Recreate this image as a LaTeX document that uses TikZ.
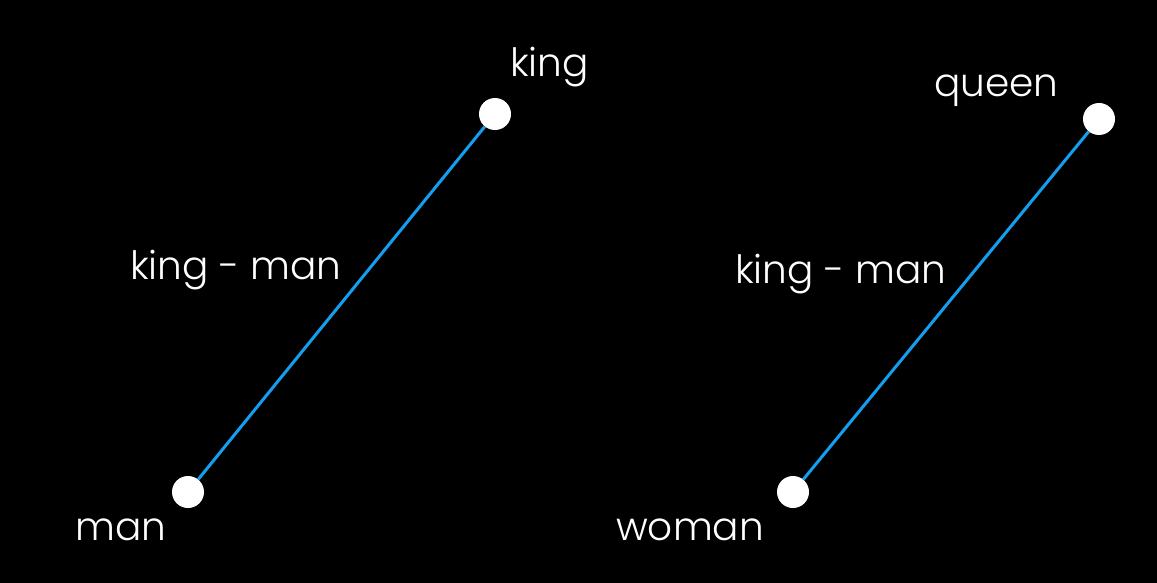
\documentclass[tikz,border=0pt]{standalone}
\usepackage{fontspec}
\setmainfont{Poppins}[UprightFont=* Light]
\definecolor{vecblue}{RGB}{20,158,240}
\begin{document}
\begin{tikzpicture}[x=1pt,y=-1pt,
  lbl/.style={text=white,font=\fontsize{39}{41}\selectfont,anchor=base west,inner sep=0pt},
  wdot/.style={circle,fill=white,minimum size=32pt,inner sep=0pt},
  vec/.style={draw=vecblue,line width=3pt}]
\fill[black] (0,0) rectangle (1157,583);
\useasboundingbox (0,0) rectangle (1157,583);
\node[wdot] (king) at (495,114) {};
\node[wdot] (man) at (188,492) {};
\node[wdot] (queen) at (1099,119) {};
\node[wdot] (woman) at (793,492) {};
\draw[vec] (man) -- (king);
\draw[vec] (woman) -- (queen);
\node[lbl] (tking) at (510,77) {king};
\node[lbl] (tdiff1) at (130,279) {king - man};
\node[lbl] (tdiff2) at (735,283) {king - man};
\node[lbl] (tqueen) at (934,97) {queen};
\node[lbl] (tman) at (75,540) {man};
\node[lbl] (twoman) at (616,540) {woman};
\end{tikzpicture}
\end{document}
